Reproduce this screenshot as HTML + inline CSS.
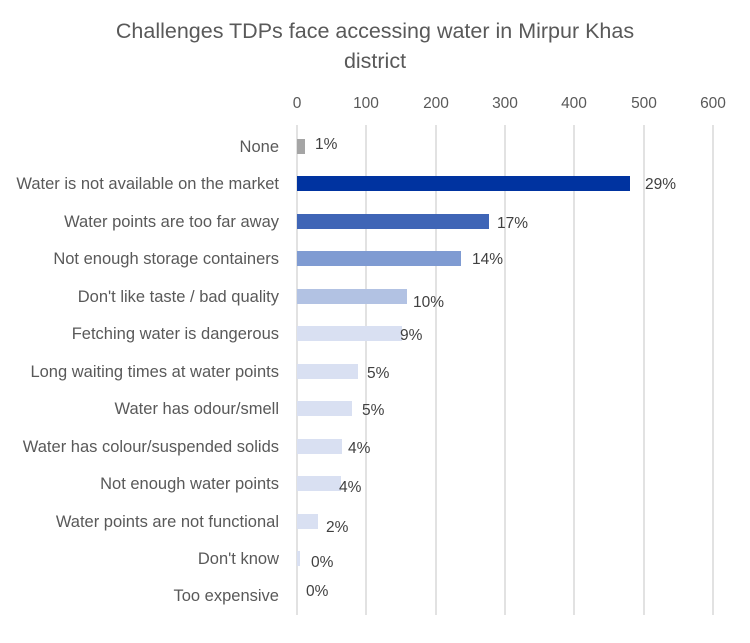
<!DOCTYPE html>
<html><head><meta charset="utf-8"><style>body{margin:0;background:#fff}</style></head><body>
<svg width="750" height="638" xmlns="http://www.w3.org/2000/svg" font-family="Liberation Sans, sans-serif">
<rect width="750" height="638" fill="#fff"/>
<text x="375" y="38" text-anchor="middle" font-size="21.5" fill="#595959">Challenges TDPs face accessing water in Mirpur Khas</text>
<text x="375" y="68" text-anchor="middle" font-size="21.5" fill="#595959">district</text>
<g stroke="#d9d9d9" stroke-width="1.5">
<line x1="297" y1="125" x2="297" y2="615"/><line x1="366" y1="125" x2="366" y2="615"/><line x1="436" y1="125" x2="436" y2="615"/><line x1="505" y1="125" x2="505" y2="615"/><line x1="574" y1="125" x2="574" y2="615"/><line x1="644" y1="125" x2="644" y2="615"/><line x1="713" y1="125" x2="713" y2="615"/>
</g>
<g font-size="15.5" fill="#595959" text-anchor="middle">
<text x="297" y="108">0</text><text x="366" y="108">100</text><text x="436" y="108">200</text><text x="505" y="108">300</text><text x="574" y="108">400</text><text x="644" y="108">500</text><text x="713" y="108">600</text>
</g>
<g font-size="16.5" fill="#595959" text-anchor="end">
<text x="279" y="152">None</text>
<text x="279" y="189">Water is not available on the market</text>
<text x="279" y="227">Water points are too far away</text>
<text x="279" y="264">Not enough storage containers</text>
<text x="279" y="302">Don't like taste / bad quality</text>
<text x="279" y="339">Fetching water is dangerous</text>
<text x="279" y="377">Long waiting times at water points</text>
<text x="279" y="414">Water has odour/smell</text>
<text x="279" y="452">Water has colour/suspended solids</text>
<text x="279" y="489">Not enough water points</text>
<text x="279" y="527">Water points are not functional</text>
<text x="279" y="564">Don't know</text>
<text x="279" y="601">Too expensive</text>
</g>
<rect x="297" y="139" width="8" height="15" fill="#A5A5A5"/>
<rect x="297" y="176" width="333" height="15" fill="#0033A0"/>
<rect x="297" y="214" width="192" height="15" fill="#3F65B6"/>
<rect x="297" y="251" width="164" height="15" fill="#7F9BD2"/>
<rect x="297" y="289" width="110" height="15" fill="#B2C2E3"/>
<rect x="297" y="326" width="105" height="15" fill="#D9E0F2"/>
<rect x="297" y="364" width="61" height="15" fill="#D9E0F2"/>
<rect x="297" y="401" width="55" height="15" fill="#D9E0F2"/>
<rect x="297" y="439" width="45" height="15" fill="#D9E0F2"/>
<rect x="297" y="476" width="44" height="15" fill="#D9E0F2"/>
<rect x="297" y="514" width="21" height="15" fill="#D9E0F2"/>
<rect x="297" y="551" width="3" height="15" fill="#D9E0F2"/>
<g font-size="15.5" fill="#404040">
<text x="315" y="149">1%</text>
<text x="645" y="189">29%</text>
<text x="497" y="228">17%</text>
<text x="472" y="264">14%</text>
<text x="413" y="307">10%</text>
<text x="400" y="340">9%</text>
<text x="367" y="378">5%</text>
<text x="362" y="415">5%</text>
<text x="348" y="453">4%</text>
<text x="339" y="492">4%</text>
<text x="326" y="532">2%</text>
<text x="311" y="567">0%</text>
<text x="306" y="596">0%</text>
</g>
</svg>
</body></html>
